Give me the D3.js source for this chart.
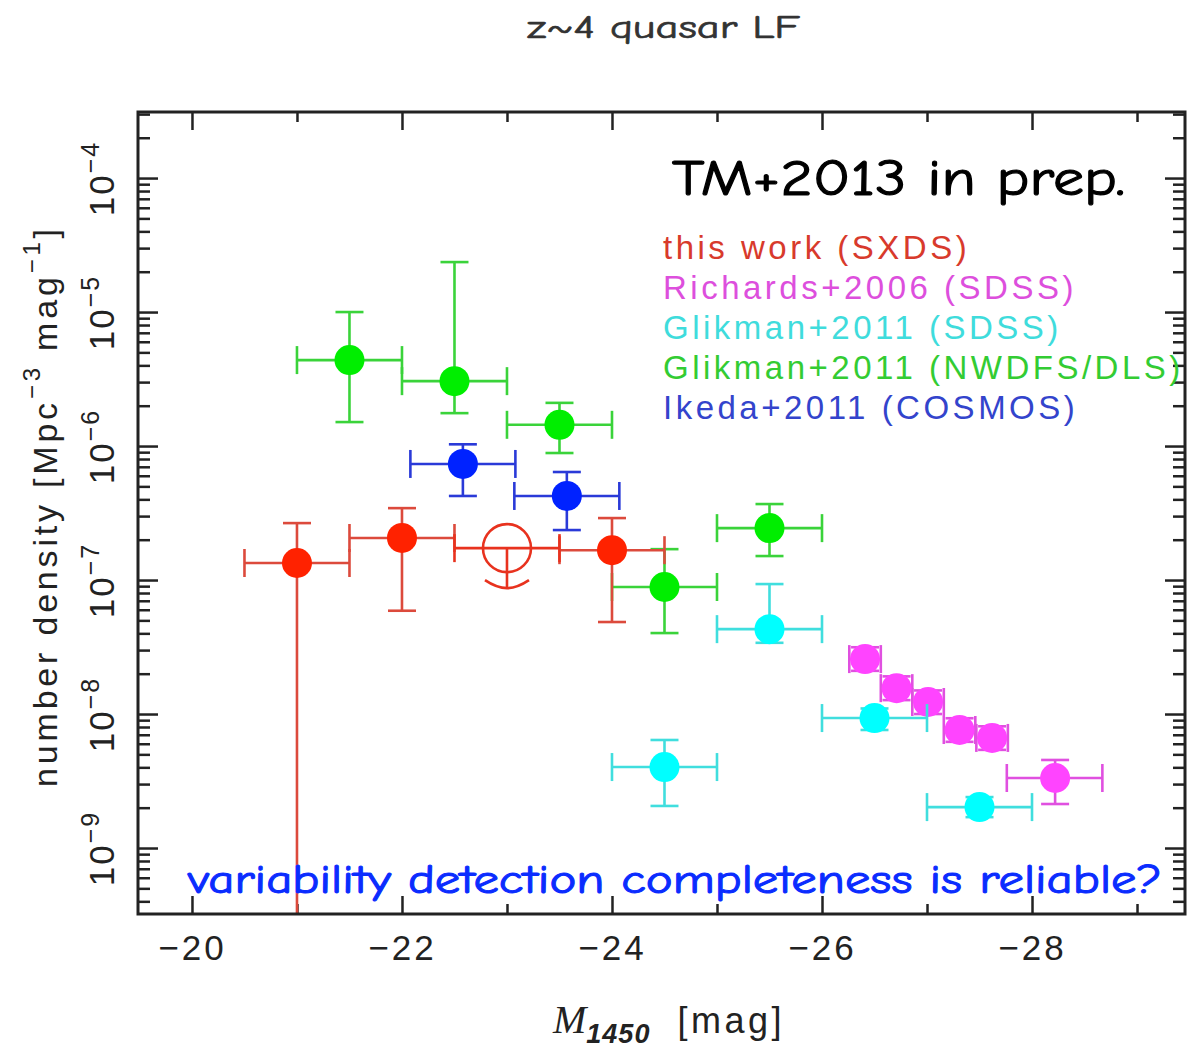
<!DOCTYPE html>
<html>
<head>
<meta charset="utf-8">
<script src="https://cdn.jsdelivr.net/npm/d3@7"></script>
<style>
  html, body { margin: 0; padding: 0; background: #fff; }
  svg { display: block; }
</style>
</head>
<body>
<svg id="chart" width="1196" height="1049"></svg>
<script>
// ---------------- DATA ----------------
// this work (SXDS) - filled points
const sxdsMag   = [-21.0, -22.0, -24.0];
const sxdsMagLo = [-20.5, -21.5, -23.5];
const sxdsMagHi = [-21.5, -22.5, -24.5];
const sxdsPhi   = [1.34e-7, 2.06e-7, 1.67e-7];
const sxdsPhiLo = [null,    5.9e-8,  4.86e-8];   // null = error bar reaches zero
const sxdsPhiHi = [2.66e-7, 3.44e-7, 2.9e-7];
// this work (SXDS) - open point, upper limit
const sxdsLimMag   = [-23.0];
const sxdsLimMagLo = [-22.5];
const sxdsLimMagHi = [-23.5];
const sxdsLimPhi   = [1.73e-7];
const sxdsLimArrow = [8.7e-8];

// Richards+2006 (SDSS)
const richMag   = [-26.41, -26.71, -27.01, -27.31, -27.62, -28.22];
const richMagLo = [-26.26, -26.56, -26.86, -27.16, -27.47, -27.76];
const richMagHi = [-26.56, -26.86, -27.16, -27.46, -27.77, -28.67];
const richPhi   = [2.57e-8, 1.56e-8, 1.23e-8, 7.6e-9, 6.63e-9, 3.33e-9];
const richPhiLo = [2.1e-8, 1.27e-8, 1.0e-8, 6.2e-9, 5.4e-9, 2.13e-9];
const richPhiHi = [3.15e-8, 1.91e-8, 1.5e-8, 9.3e-9, 8.1e-9, 4.54e-9];

// Glikman+2011 (SDSS)
const gsdMag   = [-24.5, -25.5, -26.5, -27.5];
const gsdMagLo = [-24.0, -25.0, -26.0, -27.0];
const gsdMagHi = [-25.0, -26.0, -27.0, -28.0];
const gsdPhi   = [4.02e-9, 4.3e-8, 9.33e-9, 2.02e-9];
const gsdPhiLo = [2.06e-9, 3.4e-8, 7.6e-9, 1.7e-9];
const gsdPhiHi = [6.4e-9, 9.33e-8, 1.1e-8, 2.4e-9];

// Glikman+2011 (NWDFS/DLS)
const gnwMag   = [-21.5, -22.5, -23.5, -24.5, -25.5];
const gnwMagLo = [-21.0, -22.0, -23.0, -24.0, -25.0];
const gnwMagHi = [-22.0, -23.0, -24.0, -25.0, -26.0];
const gnwPhi   = [4.38e-6, 3.05e-6, 1.44e-6, 8.87e-8, 2.44e-7];
const gnwPhiLo = [1.51e-6, 1.76e-6, 8.87e-7, 4.02e-8, 1.51e-7];
const gnwPhiHi = [1.0e-5, 2.36e-5, 2.1e-6, 1.7e-7, 3.69e-7];

// Ikeda+2011 (COSMOS)
const ikeMag   = [-22.58, -23.57];
const ikeMagLo = [-22.08, -23.07];
const ikeMagHi = [-23.08, -24.07];
const ikePhi   = [7.35e-7, 4.24e-7];
const ikePhiLo = [4.24e-7, 2.36e-7];
const ikePhiHi = [1.03e-6, 6.4e-7];

// Axis ticks
const xMajorTicks = [-20, -22, -24, -26, -28];
const xMinorTicks = [-21, -23, -25, -27, -29];
const yMajorExps  = [-9, -8, -7, -6, -5, -4];

// Legend / texts
const legendLabels = ["this work (SXDS)", "Richards+2006 (SDSS)", "Glikman+2011 (SDSS)",
                      "Glikman+2011 (NWDFS/DLS)", "Ikeda+2011 (COSMOS)"];
const legendColors = ["#d83a2c", "#dd4fdd", "#3fdcdc", "#33cc33", "#3344cc"];

// ---------------- LAYOUT ----------------
const L = 138, R = 1185, T = 112, B = 914;
const svg = d3.select("#chart");

const x = d3.scaleLinear().domain([-19.486, -29.457]).range([L, R]);
const y = d3.scaleLog().domain([Math.pow(10, -9.4925), Math.pow(10, -3.507)]).range([B, T]);

const yMajor = yMajorExps.map(e => Math.pow(10, e));
const yMinor = [];
for (let e = -10; e <= -4; e++) for (let k = 2; k <= 9; k++) {
  const v = k * Math.pow(10, e);
  if (v > y.domain()[0] && v < y.domain()[1]) yMinor.push(v);
}

svg.append("defs").append("clipPath").attr("id", "plotclip")
  .append("rect").attr("x", L).attr("y", T).attr("width", R - L).attr("height", B - T);

const axisColor = "#222";
const tickFont = "'Liberation Sans', Arial, Helvetica, sans-serif";

function styleAxis(g) {
  g.select(".domain").remove();
  g.selectAll(".tick line").attr("stroke", axisColor).attr("stroke-width", 2.5);
}

// bottom
const gxb = svg.append("g").attr("transform", `translate(0,${B})`)
  .call(d3.axisBottom(x).tickValues(xMajorTicks).tickSize(-18).tickFormat(d => "\u2212" + Math.abs(d)));
styleAxis(gxb);
gxb.selectAll(".tick text").attr("y", 46).attr("dy", 0)
  .attr("font-family", tickFont).attr("font-size", 35).attr("letter-spacing", 3)
  .attr("fill", axisColor);
svg.append("g").attr("transform", `translate(0,${B})`)
  .call(d3.axisBottom(x).tickValues(xMinorTicks).tickSize(-10).tickFormat(""))
  .call(styleAxis);
// top
svg.append("g").attr("transform", `translate(0,${T})`)
  .call(d3.axisTop(x).tickValues(xMajorTicks).tickSize(-18).tickFormat("")).call(styleAxis);
svg.append("g").attr("transform", `translate(0,${T})`)
  .call(d3.axisTop(x).tickValues(xMinorTicks).tickSize(-10).tickFormat("")).call(styleAxis);
// left
const gyl = svg.append("g").attr("transform", `translate(${L},0)`)
  .call(d3.axisLeft(y).tickValues(yMajor).tickSize(-20).tickFormat(d => String(Math.round(Math.log10(d)))));
styleAxis(gyl);
gyl.selectAll(".tick text").each(function(d) {
  const t = d3.select(this);
  const e = Math.round(Math.log10(d));
  t.text(null)
   .attr("x", 0).attr("dy", 0)
   .attr("transform", "translate(-24,0) rotate(-90)")
   .attr("text-anchor", "middle")
   .attr("font-family", tickFont).attr("font-size", 35).attr("letter-spacing", 2)
   .attr("fill", axisColor);
  t.append("tspan").text("10");
  t.append("tspan").attr("dy", "-0.62em").attr("font-size", 25).text("\u2212" + Math.abs(e));
});
svg.append("g").attr("transform", `translate(${L},0)`)
  .call(d3.axisLeft(y).tickValues(yMinor).tickSize(-12).tickFormat("")).call(styleAxis);
// right
svg.append("g").attr("transform", `translate(${R},0)`)
  .call(d3.axisRight(y).tickValues(yMajor).tickSize(-20).tickFormat("")).call(styleAxis);
svg.append("g").attr("transform", `translate(${R},0)`)
  .call(d3.axisRight(y).tickValues(yMinor).tickSize(-12).tickFormat("")).call(styleAxis);

// ---------------- MARKS ----------------
const plot = svg.append("g").attr("clip-path", "url(#plotclip)");
const CAP = 14, RAD = 15, SW = 2.6;

function drawSeries(mag, magLo, magHi, phi, phiLo, phiHi, dotColor, barColor) {
  const g = plot.append("g");
  const pts = mag.map((m, i) => ({ m, mlo: magLo[i], mhi: magHi[i], p: phi[i], plo: phiLo[i], phi: phiHi[i] }));
  const eg = g.selectAll("g.err").data(pts).join("g").attr("class", "err")
    .attr("stroke", barColor).attr("stroke-width", SW).attr("fill", "none");
  // horizontal
  eg.append("line").attr("x1", d => x(d.mlo)).attr("x2", d => x(d.mhi))
    .attr("y1", d => y(d.p)).attr("y2", d => y(d.p));
  eg.append("line").attr("x1", d => x(d.mlo)).attr("x2", d => x(d.mlo))
    .attr("y1", d => y(d.p) - CAP).attr("y2", d => y(d.p) + CAP);
  eg.append("line").attr("x1", d => x(d.mhi)).attr("x2", d => x(d.mhi))
    .attr("y1", d => y(d.p) - CAP).attr("y2", d => y(d.p) + CAP);
  // vertical
  eg.append("line").attr("x1", d => x(d.m)).attr("x2", d => x(d.m))
    .attr("y1", d => y(d.phi)).attr("y2", d => d.plo === null ? B + 5 : y(d.plo));
  eg.append("line").attr("x1", d => x(d.m) - CAP).attr("x2", d => x(d.m) + CAP)
    .attr("y1", d => y(d.phi)).attr("y2", d => y(d.phi));
  eg.filter(d => d.plo !== null).append("line")
    .attr("x1", d => x(d.m) - CAP).attr("x2", d => x(d.m) + CAP)
    .attr("y1", d => y(d.plo)).attr("y2", d => y(d.plo));
  g.selectAll("circle").data(pts).join("circle")
    .attr("cx", d => x(d.m)).attr("cy", d => y(d.p)).attr("r", RAD).attr("fill", dotColor);
}

drawSeries(richMag, richMagLo, richMagHi, richPhi, richPhiLo, richPhiHi, "#ff44ff", "#e050e0");
drawSeries(gsdMag, gsdMagLo, gsdMagHi, gsdPhi, gsdPhiLo, gsdPhiHi, "#00ffff", "#40dede");
drawSeries(gnwMag, gnwMagLo, gnwMagHi, gnwPhi, gnwPhiLo, gnwPhiHi, "#00ee00", "#3ad33a");
drawSeries(ikeMag, ikeMagLo, ikeMagHi, ikePhi, ikePhiLo, ikePhiHi, "#0022ff", "#2a3ad8");
drawSeries(sxdsMag, sxdsMagLo, sxdsMagHi, sxdsPhi, sxdsPhiLo, sxdsPhiHi, "#ff2200", "#dc4a3c");

// upper limit (open circle + arrow)
const lim = sxdsLimMag.map((m, i) => ({ m, mlo: sxdsLimMagLo[i], mhi: sxdsLimMagHi[i], p: sxdsLimPhi[i], a: sxdsLimArrow[i] }));
const lg = plot.append("g").selectAll("g").data(lim).join("g")
  .attr("stroke", "#e8321e").attr("stroke-width", SW).attr("fill", "none");
lg.append("line").attr("x1", d => x(d.mlo)).attr("x2", d => x(d.mhi)).attr("y1", d => y(d.p)).attr("y2", d => y(d.p));
lg.append("line").attr("x1", d => x(d.mlo)).attr("x2", d => x(d.mlo)).attr("y1", d => y(d.p) - CAP).attr("y2", d => y(d.p) + CAP);
lg.append("line").attr("x1", d => x(d.mhi)).attr("x2", d => x(d.mhi)).attr("y1", d => y(d.p) - CAP).attr("y2", d => y(d.p) + CAP);
lg.append("circle").attr("cx", d => x(d.m)).attr("cy", d => y(d.p)).attr("r", 24);
lg.append("line").attr("x1", d => x(d.m)).attr("x2", d => x(d.m)).attr("y1", d => y(d.p)).attr("y2", d => y(d.a));
lg.append("path").attr("d", d => {
  const cx = x(d.m), cy = y(d.a);
  return `M${cx - 22},${cy - 8} Q${cx - 10},${cy} ${cx},${cy} Q${cx + 10},${cy} ${cx + 22},${cy - 8}`;
});

// frame
svg.append("rect").attr("x", L).attr("y", T).attr("width", R - L).attr("height", B - T)
  .attr("fill", "none").attr("stroke", axisColor).attr("stroke-width", 3);

// ---------------- TEXTS ----------------
const comic = "'Comic Sans MS', 'Comic Neue', Lato, 'Open Sans', sans-serif";

svg.append("text").attr("x", 527).attr("y", 38).attr("font-family", comic).attr("font-size", 33)
  .attr("fill", "#333").attr("stroke", "#333").attr("stroke-width", 0.7)
  .attr("textLength", 273).attr("lengthAdjust", "spacingAndGlyphs")
  .text("z~4 quasar LF");

// legend (clipped at the right frame)
svg.append("defs").append("clipPath").attr("id", "legclip")
  .append("rect").attr("x", 0).attr("y", 0).attr("width", R + 1).attr("height", 1049);
svg.append("g").attr("clip-path", "url(#legclip)")
  .selectAll("text").data(legendLabels).join("text")
  .attr("x", 663).attr("y", (d, i) => 259 + i * 40)
  .attr("font-family", tickFont).attr("font-size", 33).attr("letter-spacing", 3.5)
  .attr("fill", (d, i) => legendColors[i]).text(d => d);

svg.append("text").attr("x", 672).attr("y", 195).attr("font-family", comic).attr("font-size", 50)
  .attr("fill", "#000").attr("stroke", "#000").attr("stroke-width", 1.1)
  .attr("textLength", 453).attr("lengthAdjust", "spacingAndGlyphs")
  .text("TM+2013 in prep.");

svg.append("text").attr("x", 188).attr("y", 893).attr("font-family", comic).attr("font-size", 40)
  .attr("fill", "#0a2cff").attr("stroke", "#0a2cff").attr("stroke-width", 1)
  .attr("textLength", 974).attr("lengthAdjust", "spacingAndGlyphs")
  .text("variability detection completeness is reliable?");

// x label
const xl = svg.append("text").attr("x", 553).attr("y", 1033).attr("fill", "#222");
xl.append("tspan").attr("font-family", "'Liberation Serif', 'DejaVu Serif', serif").attr("font-style", "italic")
  .attr("font-size", 40).text("M");
xl.append("tspan").attr("font-family", tickFont).attr("font-style", "italic").attr("font-weight", "bold")
  .attr("font-size", 27).attr("dy", 10).attr("letter-spacing", 1).text("1450");
xl.append("tspan").attr("font-family", tickFont).attr("font-size", 36).attr("dy", -10).attr("dx", 27)
  .attr("letter-spacing", 3.5).text("[mag]");

// y label
const yl = svg.append("text").attr("transform", "translate(57,506) rotate(-90)")
  .attr("text-anchor", "middle").attr("font-family", tickFont).attr("font-size", 34)
  .attr("letter-spacing", 3.8).attr("fill", "#222");
yl.append("tspan").text("number density [Mpc");
yl.append("tspan").attr("font-size", 24).attr("dy", -17).text("\u22123");
yl.append("tspan").attr("dy", 17).text(" mag");
yl.append("tspan").attr("font-size", 24).attr("dy", -17).text("\u22121");
yl.append("tspan").attr("dy", 17).text("]");
</script>
</body>
</html>
